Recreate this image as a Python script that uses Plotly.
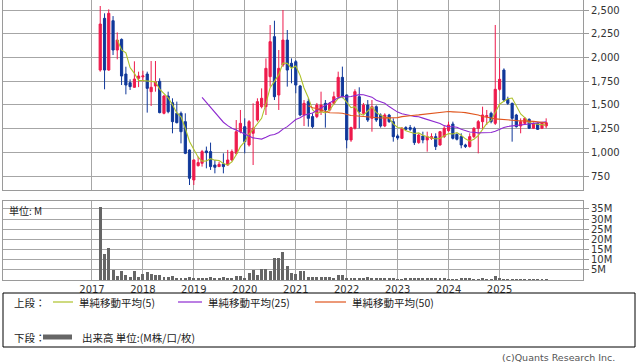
import pandas as pd
import plotly.graph_objects as go

# ---------------- data (monthly, Mar 2017 - Dec 2025) ----------------
months = pd.date_range("2017-03-01", "2025-12-01", freq="MS")

opens = [1867, 2412, 1867, 2387, 2078, 2190, 1825, 1734, 1685, 1780,
         1795, 1825, 1639, 1699, 1748, 1411, 1593, 1523, 1411, 1411, 1323, 1024,
         708, 859, 884, 1014, 1007, 866, 849, 877, 866, 919, 989, 1217,
         1270, 1077, 1200, 1340, 1481, 1481, 1797, 2219, 1604, 1920, 2183, 1938,
         1955, 1699, 1393, 1534, 1376, 1376, 1428, 1516, 1446, 1516, 1586, 1790,
         1604, 1130, 1253, 1586, 1411, 1498, 1358, 1481, 1393, 1277, 1393, 1323,
         1172, 1147, 1260, 1260, 1253, 1102, 1172, 1130, 1147, 1165, 1077, 1165,
         1228, 1298, 1189, 1165, 1077, 1060, 1165, 1253, 1323, 1376, 1411, 1305,
         1664, 1867, 1558, 1516, 1393, 1277, 1305, 1347, 1253, 1305, 1253, 1277]
highs = [2542, 2465, 2507, 2436, 2264, 2200, 1902, 1769, 1959, 1850,
         1860, 1850, 1962, 1962, 1780, 1605, 1639, 1569, 1534, 1430, 1411, 1030,
         925, 954, 1025, 1060, 1102, 919, 901, 989, 1025, 1030, 1340, 1446,
         1358, 1340, 1516, 1569, 1674, 1990, 2342, 2387, 2078, 2500, 2289, 1990,
         1973, 1710, 1551, 1569, 1411, 1520, 1639, 1551, 1530, 1639, 1850, 1903,
         1610, 1270, 1664, 1685, 1520, 1551, 1551, 1495, 1410, 1411, 1405, 1358,
         1190, 1265, 1275, 1288, 1270, 1195, 1217, 1217, 1200, 1200, 1225, 1275,
         1323, 1323, 1200, 1200, 1090, 1200, 1265, 1340, 1481, 1446, 1428, 2342,
         1990, 1885, 1586, 1523, 1405, 1358, 1370, 1358, 1315, 1315, 1320, 1358]
lows = [1850, 1664, 1860, 2025, 1980, 1709, 1611, 1657, 1680, 1687,
        1745, 1418, 1488, 1639, 1411, 1400, 1411, 1200, 1305, 1094, 980, 655,
        655, 850, 849, 831, 814, 778, 845, 778, 860, 905, 970, 1200,
        989, 1060, 866, 1323, 1463, 1393, 1692, 1551, 1446, 1900, 1692, 1727,
        1622, 1380, 1277, 1270, 1253, 1360, 1393, 1260, 1430, 1500, 1570, 1570,
        1042, 1110, 1240, 1253, 1395, 1320, 1217, 1320, 1260, 1265, 1310, 1112,
        1130, 1140, 1230, 1225, 1077, 1090, 1095, 1007, 1130, 1024, 1070, 1150,
        1215, 1135, 1125, 1042, 1045, 1050, 1150, 989, 1235, 1288, 1305, 1288,
        1650, 1530, 1500, 1112, 1260, 1200, 1295, 1245, 1245, 1235, 1245, 1253]
closes = [2352, 1867, 2465, 2078, 2183, 1804, 1709, 1692, 1772, 1804,
          1805, 1674, 1685, 1744, 1418, 1593, 1428, 1323, 1312, 1217, 989, 726,
          919, 891, 1007, 996, 849, 842, 873, 849, 919, 1007, 1217, 1305,
          1112, 1323, 1253, 1534, 1569, 1885, 2166, 1586, 1885, 2183, 1867, 1903,
          1709, 1393, 1516, 1358, 1270, 1498, 1498, 1446, 1516, 1586, 1790, 1586,
          1130, 1260, 1639, 1428, 1498, 1340, 1481, 1340, 1277, 1393, 1323, 1165,
          1151, 1253, 1242, 1242, 1102, 1182, 1130, 1165, 1165, 1060, 1217, 1253,
          1288, 1147, 1137, 1077, 1060, 1165, 1253, 1323, 1393, 1386, 1323, 1664,
          1769, 1551, 1516, 1358, 1270, 1323, 1358, 1253, 1305, 1242, 1312, 1312]
volumes_m = [35.8, 12.7, 15.7, 5.1, 2.1, 4.6, 2.5, 1.5, 4.4, 1.5,
             2.9, 3.9, 2.9, 2.5, 2.5, 1.5, 1.5, 2.0, 0.7, 0.7, 1.0, 1.5,
             0.7, 1.0, 1.0, 0.7, 1.5, 0.7, 0.7, 1.5, 0.7, 0.7, 2.0, 2.0,
             0.7, 3.3, 4.9, 2.5, 5.4, 5.4, 4.6, 10.8, 10.8, 13.7, 6.9, 3.4,
             2.9, 4.4, 4.4, 1.5, 1.5, 1.5, 1.5, 1.5, 1.5, 0.7, 2.5, 2.5,
             0.8, 1.0, 1.0, 0.7, 0.7, 1.5, 1.2, 0.7, 0.7, 1.0, 0.6, 0.6,
             0.3, 0.3, 0.5, 0.5, 0.6, 0.6, 0.6, 0.6, 0.6, 0.6, 0.6, 0.6,
             0.3, 0.3, 0.3, 0.6, 0.6, 0.6, 0.3, 0.3, 0.6, 0.3, 0.3, 2.0,
             0.6, 0.3, 0.3, 0.3, 0.3, 0.3, 0.3, 0.3, 0.3, 0.3, 0.3, 0.3]

year_ticks = [f"{y}-01-01" for y in range(2017, 2026)]
year_labels = [str(y) for y in range(2017, 2026)]
price_ticks = [750, 1000, 1250, 1500, 1750, 2000, 2250, 2500]
vol_ticks = [5, 10, 15, 20, 25, 30, 35]
vol_labels = ["5M", "10M", "15M", "20M", "25M", "30M", "35M"]
ma_periods = [5, 25, 50]
ma_labels = ["単純移動平均(5)", "単純移動平均(25)", "単純移動平均(50)"]

# ---------------- styling ----------------
W, H = 638, 362
RED = "#ee1a4c"
BLUE = "#10389a"
MA_COLORS = ["#aec22a", "#8e2ad0", "#e0561e"]
GRID = "#a6a6a6"
FONT = "DejaVu Sans"
JP = "Noto Sans CJK JP"

def px(x):
    return x / W

def py(y):
    return 1 - y / H

X_RANGE = ["2015-04-04", "2026-08-22"]

s_close = pd.Series(closes, index=months)

fig = go.Figure()
fig.add_trace(go.Candlestick(
    x=months, open=opens, high=highs, low=lows, close=closes,
    increasing=dict(line=dict(color=RED, width=1), fillcolor=RED),
    decreasing=dict(line=dict(color=BLUE, width=1), fillcolor=BLUE),
    whiskerwidth=0, showlegend=False, xaxis="x", yaxis="y", hoverinfo="skip"))

for p, c in zip(ma_periods, MA_COLORS):
    ma = s_close.rolling(p).mean()
    fig.add_trace(go.Scatter(x=months, y=ma.values, mode="lines",
                             line=dict(color=c, width=1.1), showlegend=False,
                             xaxis="x", yaxis="y", hoverinfo="skip"))

fig.add_trace(go.Bar(x=months, y=volumes_m, marker=dict(color="#666666", line=dict(width=0)),
                     width=21 * 86400000, showlegend=False, xaxis="x2", yaxis="y2",
                     hoverinfo="skip"))

axis_common = dict(showline=True, linecolor="#9a9a9a", linewidth=1, mirror=True,
                   showgrid=True, gridcolor=GRID, gridwidth=1, zeroline=False)

fig.update_layout(
    width=W, height=H, margin=dict(l=0, r=0, t=0, b=0),
    paper_bgcolor="white", plot_bgcolor="white",
    font=dict(family=FONT, size=10, color="#333333"),
    boxgap=0.2,
    bargap=0,
    xaxis=dict(domain=[px(3), px(583)], range=X_RANGE, type="date",
               tickvals=year_ticks, showticklabels=False,
               rangeslider=dict(visible=False), anchor="y", **axis_common),
    yaxis=dict(domain=[py(190), py(0)], range=[602.4, 2605.4], side="right",
               tickvals=price_ticks, tickformat=",d", ticks="outside", ticklen=5,
               tickcolor="#9a9a9a", anchor="x",
               tickfont=dict(family=FONT, size=10, color="#333333"), **axis_common),
    xaxis2=dict(domain=[px(3), px(583)], range=X_RANGE, type="date",
                tickvals=year_ticks, ticktext=year_labels, ticks="",
                tickfont=dict(family=FONT, size=10, color="#333333"), anchor="y2",
                **axis_common),
    yaxis2=dict(domain=[py(280), py(201)], range=[0, 38.9], side="right",
                tickvals=vol_ticks, ticktext=vol_labels, ticks="outside", ticklen=5,
                tickcolor="#9a9a9a", anchor="x2",
                tickfont=dict(family=FONT, size=10, color="#333333"), **axis_common),
)

shapes = []
annotations = []
# legend box
shapes.append(dict(type="rect", xref="paper", yref="paper", x0=px(3), x1=px(635),
                   y0=py(347), y1=py(293), line=dict(color="black", width=1)))
annotations.append(dict(text="上段：", x=px(12), y=py(302), xref="paper", yref="paper",
                        xanchor="left", yanchor="middle", showarrow=False,
                        font=dict(family=JP, size=10.5, color="#222222")))
annotations.append(dict(text="下段：", x=px(12), y=py(337), xref="paper", yref="paper",
                        xanchor="left", yanchor="middle", showarrow=False,
                        font=dict(family=JP, size=10.5, color="#222222")))
line_spans = [(53, 73), (178, 202), (315, 346)]
text_x = [77, 206, 350]
for (a, b), tx, c, lab in zip(line_spans, text_x, MA_COLORS, ma_labels):
    shapes.append(dict(type="line", xref="paper", yref="paper", x0=px(a), x1=px(b),
                       y0=py(302), y1=py(302), line=dict(color=c, width=1.2)))
    annotations.append(dict(text=lab, x=px(tx), y=py(302), xref="paper", yref="paper",
                            xanchor="left", yanchor="middle", showarrow=False,
                            font=dict(family=JP, size=10.5, color="#222222")))
shapes.append(dict(type="line", xref="paper", yref="paper", x0=px(43), x1=px(72),
                   y0=py(337), y1=py(337), line=dict(color="#666666", width=5)))
annotations.append(dict(text="出来高 単位:(M株/口/枚)", x=px(80), y=py(337), xref="paper",
                        yref="paper", xanchor="left", yanchor="middle", showarrow=False,
                        font=dict(family=JP, size=10.5, color="#222222")))
annotations.append(dict(text="単位: M", x=px(7), y=py(210), xref="paper", yref="paper",
                        xanchor="left", yanchor="middle", showarrow=False,
                        font=dict(family=JP, size=10, color="#222222")))
annotations.append(dict(text="(c)Quants Research Inc.", x=px(617), y=py(357), xref="paper",
                        yref="paper", xanchor="right", yanchor="middle", showarrow=False,
                        font=dict(family=FONT, size=9.5, color="#555555")))
fig.update_layout(shapes=shapes, annotations=annotations)

fig.write_html("out.html")
